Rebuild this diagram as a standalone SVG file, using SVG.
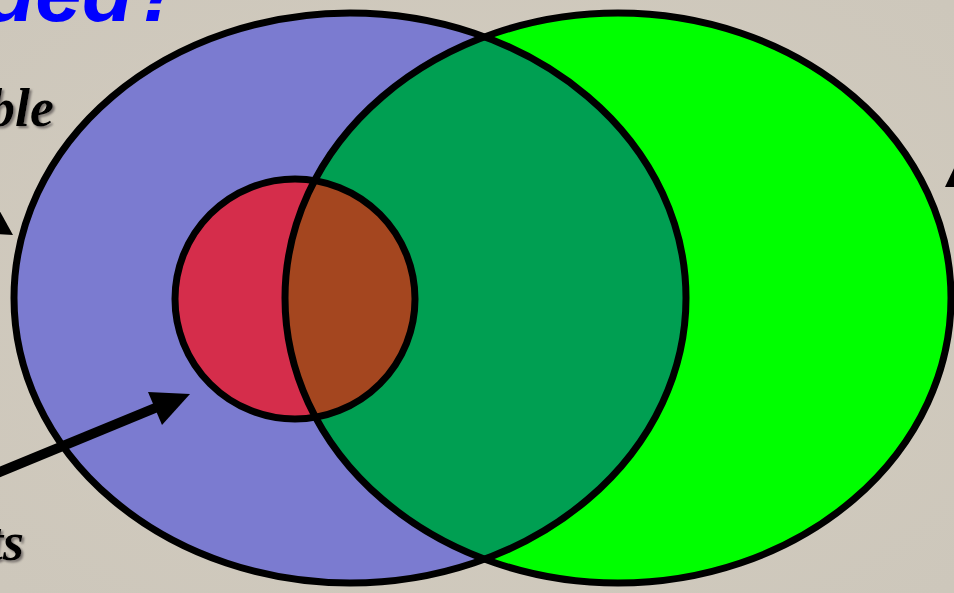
<svg xmlns="http://www.w3.org/2000/svg" width="954" height="593" viewBox="0 0 954 593">
  <style>
    .outline { fill: none; stroke: #000; stroke-width: 7; }
    .title { font-family: "Liberation Sans", Arial, sans-serif; font-weight: bold; font-style: italic; fill: #0000ff; }
    .label { font-family: "Liberation Serif", "Times New Roman", serif; font-weight: bold; font-style: italic; fill: #000; filter: url(#shadow); }
  </style>
  <defs>
    <radialGradient id="bg" cx="0.5" cy="0.5" r="0.7">
      <stop offset="0" stop-color="#d4cdc0"/>
      <stop offset="1" stop-color="#cdc7bb"/>
    </radialGradient>
    <filter id="shadow" x="-20%" y="-20%" width="140%" height="140%">
      <feDropShadow dx="2" dy="2" stdDeviation="1" flood-color="#6f6b66" flood-opacity="0.9"/>
    </filter>
    <clipPath id="clipGreen">
      <ellipse cx="618" cy="298" rx="333" ry="285"/>
    </clipPath>
    <clipPath id="clipBlue">
      <ellipse cx="350" cy="298" rx="336" ry="285"/>
    </clipPath>
  </defs>

  <rect width="954" height="593" fill="url(#bg)"/>

  <!-- title and labels -->
  <text class="title" x="-16" y="21" font-size="84">ded?</text>
  <text class="label" x="-12" y="126" font-size="54">ble</text>
  <text class="label" x="-12" y="560" font-size="54">ts</text>

  <!-- fills -->
  <g id="set-blue">
    <ellipse cx="350" cy="298" rx="336" ry="285" fill="#7b7bd0"/>
  </g>
  <g id="set-green">
    <ellipse cx="618" cy="298" rx="333" ry="285" fill="#00ff00"/>
  </g>
  <g id="overlap-blue-green" clip-path="url(#clipBlue)">
    <ellipse cx="618" cy="298" rx="333" ry="285" fill="#009f52"/>
  </g>
  <g id="set-red">
    <circle cx="295" cy="299" r="120" fill="#d52d4b"/>
  </g>
  <g id="overlap-red-green" clip-path="url(#clipGreen)">
    <circle cx="295" cy="299" r="120" fill="#a4461f"/>
  </g>

  <!-- outlines -->
  <g id="outlines">
    <ellipse class="outline" cx="350" cy="298" rx="336" ry="285"/>
    <ellipse class="outline" cx="618" cy="298" rx="333" ry="285"/>
    <circle class="outline" cx="295" cy="299" r="120"/>
  </g>

  <!-- connectors -->
  <g id="connectors" fill="#000">
    <polygon points="-2,208 13,235 -2,234"/>
    <polygon points="945,187 956,164 956,187"/>
    <line x1="-5" y1="474" x2="160" y2="406" stroke="#000" stroke-width="10"/>
    <polygon points="190,394 148,392 162,425"/>
  </g>
</svg>
